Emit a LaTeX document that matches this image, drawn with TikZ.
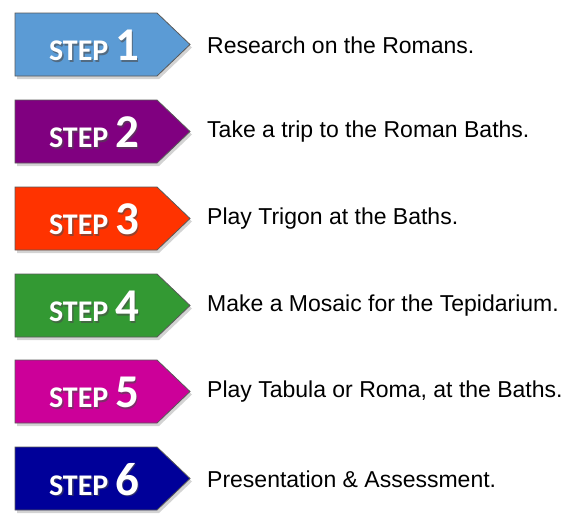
\documentclass[tikz,border=0pt]{standalone}
\usepackage{fontspec}
\setmainfont{Liberation Sans}
\newfontfamily\stepfont{Carlito}[BoldFont={Carlito Bold}]
\usetikzlibrary{shadows,calc}
\definecolor{cA}{HTML}{5B9BD5}
\definecolor{cB}{HTML}{800080}
\definecolor{cC}{HTML}{FF3300}
\definecolor{cD}{HTML}{339933}
\definecolor{cE}{HTML}{CC0099}
\definecolor{cF}{HTML}{000099}
\tikzset{
  x=1pt,y=-1pt,
  arrowbox/.style={draw=black!65,line width=0.8pt,drop shadow={shadow xshift=2pt,shadow yshift=-3pt,opacity=0.35}},
  steplabel/.style={text=white,font=\stepfont\bfseries,inner sep=0pt,anchor=center},
  desc/.style={font=\fontsize{23}{27}\selectfont,anchor=west,inner sep=0pt}
}
\newcommand{\stepitem}[4]{%
  % #1 index, #2 top y, #3 colour, #4 text
  \filldraw[arrowbox,fill=#3] (15,#2) -- (157,#2) -- (190,#2+31.5) -- (157,#2+63) -- (15,#2+63) -- cycle;
  \node[steplabel,text=black!70,opacity=0.6] at (95.5,#2+34) {\fontsize{30}{32}\selectfont STEP \fontsize{47}{48}\selectfont #1};
  \node[steplabel] (s#1) at (94,#2+32.5) {\fontsize{30}{32}\selectfont STEP \fontsize{47}{48}\selectfont #1};
  \node[desc] (d#1) at (207,#2+32) {#4};
}
\begin{document}
\begin{tikzpicture}
\useasboundingbox (0,0) rectangle (581,528);
\stepitem{1}{13}{cA}{Research on the Romans.}
\stepitem{2}{100}{cB}{Take a trip to the Roman Baths.}
\stepitem{3}{187}{cC}{Play Trigon at the Baths.}
\stepitem{4}{274}{cD}{Make a Mosaic for the Tepidarium.}
\stepitem{5}{360}{cE}{Play Tabula or Roma, at the Baths.}
\stepitem{6}{447}{cF}{Presentation \& Assessment.}
\end{tikzpicture}
\end{document}
